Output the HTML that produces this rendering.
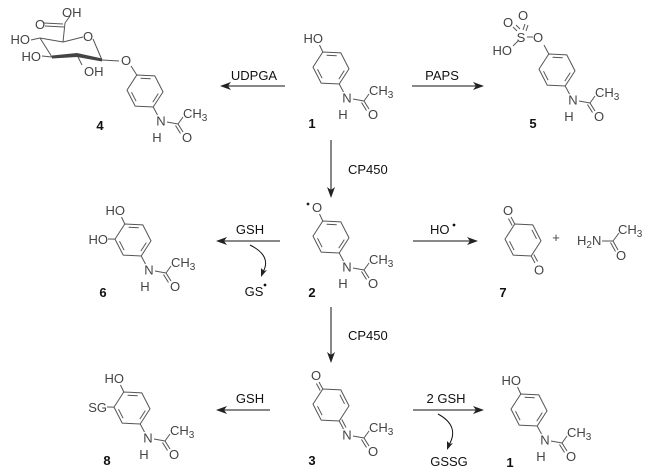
<!DOCTYPE html>
<html><head><meta charset="utf-8"><style>
html,body{margin:0;padding:0;background:#fff;}
svg{display:block;}
text{font-family:"Liberation Sans",sans-serif;font-size:13px;fill:#444;}
.b{font-weight:bold;fill:#111;}
.k{fill:#111;}
</style></head><body>
<svg width="653" height="473" viewBox="0 0 653 473" xmlns="http://www.w3.org/2000/svg">
<g stroke="#555" stroke-width="1" fill="none">
</g>

<!-- Molecule 1 top -->
<g transform="translate(331,68)" stroke="#555" stroke-width="1" fill="none">
<polygon points="-8.2,-16 9.8,-15.1 18,0.9 8.2,16 -9.8,15.1 -18,-0.9"/>
<line x1="-4.4" y1="-12.8" x2="5.7" y2="-12.3"/><line x1="13.3" y1="2.6" x2="7.8" y2="11.1"/><line x1="-8.9" y1="10.2" x2="-13.5" y2="1.2"/>
<line x1="-8.2" y1="-16" x2="-11.5" y2="-23"/>
<line x1="8.2" y1="16" x2="12.5" y2="24"/>
<line x1="22" y1="31" x2="33" y2="33"/><line x1="33" y1="33" x2="38" y2="26"/>
<line x1="33" y1="33" x2="38" y2="41"/><line x1="30.5" y1="34.5" x2="35.5" y2="42.5"/>
<g stroke="none"><text x="-8" y="-25" text-anchor="end">HO</text><text x="16" y="34.5" text-anchor="middle">N</text><text x="12" y="51" text-anchor="middle">H</text><text x="38" y="27">CH<tspan font-size="10" dy="3">3</tspan></text><text x="42" y="51" text-anchor="middle">O</text></g>
</g>

<!-- Molecule 5 -->
<g transform="translate(557,70)" stroke="#555" stroke-width="1" fill="none">
<polygon points="-8.2,-16 9.8,-15.1 18,0.9 8.2,16 -9.8,15.1 -18,-0.9"/>
<line x1="-4.4" y1="-12.8" x2="5.7" y2="-12.3"/><line x1="13.3" y1="2.6" x2="7.8" y2="11.1"/><line x1="-8.9" y1="10.2" x2="-13.5" y2="1.2"/>
<line x1="-8.2" y1="-16" x2="-13" y2="-25"/>
<line x1="-24" y1="-33" x2="-30" y2="-33"/>
<line x1="-40" y1="-39" x2="-44" y2="-43"/><line x1="-37" y1="-41" x2="-41" y2="-45"/>
<line x1="-34" y1="-40" x2="-32" y2="-46"/><line x1="-31" y1="-39" x2="-29" y2="-45"/>
<line x1="-39" y1="-29" x2="-44" y2="-24"/>
<line x1="8.2" y1="16" x2="12.5" y2="24"/>
<line x1="22" y1="31" x2="33" y2="33"/><line x1="33" y1="33" x2="38" y2="26"/>
<line x1="33" y1="33" x2="38" y2="41"/><line x1="30.5" y1="34.5" x2="35.5" y2="42.5"/>
<g stroke="none"><text x="-19" y="-28" text-anchor="middle">O</text><text x="-36" y="-28" text-anchor="middle">S</text><text x="-49" y="-43" text-anchor="middle">O</text><text x="-34" y="-50" text-anchor="middle">O</text><text x="-45" y="-15" text-anchor="end">HO</text>
<text x="16" y="34.5" text-anchor="middle">N</text><text x="12" y="51" text-anchor="middle">H</text><text x="38" y="27">CH<tspan font-size="10" dy="3">3</tspan></text><text x="42" y="51" text-anchor="middle">O</text></g>
</g>

<!-- Molecule 4 -->
<g transform="translate(145,91)" stroke="#555" stroke-width="1" fill="none">
<polygon points="-8.2,-16 9.8,-15.1 18,0.9 8.2,16 -9.8,15.1 -18,-0.9"/>
<line x1="-4.4" y1="-12.8" x2="5.7" y2="-12.3"/><line x1="13.3" y1="2.6" x2="7.8" y2="11.1"/><line x1="-8.9" y1="10.2" x2="-13.5" y2="1.2"/>
<line x1="-8.2" y1="-16" x2="-14" y2="-25"/>
<line x1="8.2" y1="16" x2="12.5" y2="24"/>
<line x1="22" y1="31" x2="33" y2="33"/><line x1="33" y1="33" x2="38" y2="26"/>
<line x1="33" y1="33" x2="38" y2="41"/><line x1="30.5" y1="34.5" x2="35.5" y2="42.5"/>
<g stroke="none"><text x="16" y="34.5" text-anchor="middle">N</text><text x="12" y="51" text-anchor="middle">H</text><text x="38" y="27">CH<tspan font-size="10" dy="3">3</tspan></text><text x="42" y="51" text-anchor="middle">O</text></g>
</g>
<g stroke="#555" stroke-width="1" fill="none">
<line x1="119" y1="61" x2="102" y2="60"/>
<line x1="102" y1="60" x2="93" y2="39"/>
<line x1="83" y1="37" x2="63" y2="42"/>
<line x1="63" y1="42" x2="40" y2="38"/>
<line x1="40" y1="38" x2="52" y2="57"/>
<line x1="63" y1="42" x2="65" y2="23"/>
<line x1="65" y1="23" x2="70" y2="16"/>
<line x1="63" y1="24" x2="44" y2="23"/><line x1="64" y1="27" x2="45" y2="26"/>
<line x1="40" y1="38" x2="31" y2="40"/>
<line x1="52" y1="57" x2="42" y2="56"/>
<line x1="77" y1="55" x2="82" y2="65"/>
</g>
<polygon points="52,55.5 77,53 102,58.5 102,61.5 77,57 52,58.5" fill="#444"/>
<text x="126" y="65" text-anchor="middle">O</text>
<text x="88" y="41" text-anchor="middle">O</text>
<text x="40" y="29" text-anchor="middle">O</text>
<text x="62" y="17">OH</text>
<text x="30" y="44" text-anchor="end">HO</text>
<text x="41" y="61" text-anchor="end">HO</text>
<text x="84" y="76">OH</text>

<!-- Molecule 2 -->
<g transform="translate(331,237)" stroke="#555" stroke-width="1" fill="none">
<polygon points="-8.2,-16 9.8,-15.1 18,0.9 8.2,16 -9.8,15.1 -18,-0.9"/>
<line x1="-4.4" y1="-12.8" x2="5.7" y2="-12.3"/><line x1="13.3" y1="2.6" x2="7.8" y2="11.1"/><line x1="-8.9" y1="10.2" x2="-13.5" y2="1.2"/>
<line x1="-8.2" y1="-16" x2="-11.5" y2="-23"/>
<line x1="8.2" y1="16" x2="12.5" y2="24"/>
<line x1="22" y1="31" x2="33" y2="33"/><line x1="33" y1="33" x2="38" y2="26"/>
<line x1="33" y1="33" x2="38" y2="41"/><line x1="30.5" y1="34.5" x2="35.5" y2="42.5"/>
<g stroke="none"><text x="-14" y="-25" text-anchor="middle">O</text><circle cx="-23" cy="-33" r="1.4" fill="#222"/><text x="16" y="34.5" text-anchor="middle">N</text><text x="12" y="51" text-anchor="middle">H</text><text x="38" y="27">CH<tspan font-size="10" dy="3">3</tspan></text><text x="42" y="51" text-anchor="middle">O</text></g>
</g>

<!-- Molecule 6 -->
<g transform="translate(133,240)" stroke="#555" stroke-width="1" fill="none">
<polygon points="-8.2,-16 9.8,-15.1 18,0.9 8.2,16 -9.8,15.1 -18,-0.9"/>
<line x1="-4.4" y1="-12.8" x2="5.7" y2="-12.3"/><line x1="13.3" y1="2.6" x2="7.8" y2="11.1"/><line x1="-8.9" y1="10.2" x2="-13.5" y2="1.2"/>
<line x1="-8.2" y1="-16" x2="-11.5" y2="-23"/>
<line x1="-18" y1="-0.9" x2="-25" y2="-1"/>
<line x1="8.2" y1="16" x2="12.5" y2="24"/>
<line x1="22" y1="31" x2="33" y2="33"/><line x1="33" y1="33" x2="38" y2="26"/>
<line x1="33" y1="33" x2="38" y2="41"/><line x1="30.5" y1="34.5" x2="35.5" y2="42.5"/>
<g stroke="none"><text x="-8" y="-25" text-anchor="end">HO</text><text x="-25" y="4" text-anchor="end">HO</text><text x="16" y="34.5" text-anchor="middle">N</text><text x="12" y="51" text-anchor="middle">H</text><text x="38" y="27">CH<tspan font-size="10" dy="3">3</tspan></text><text x="42" y="51" text-anchor="middle">O</text></g>
</g>

<!-- Molecule 7 -->
<g transform="translate(523,240)" stroke="#555" stroke-width="1" fill="none">
<polygon points="-8.2,-16 9.8,-15.1 18,0.9 8.2,16 -9.8,15.1 -18,-0.9"/>
<line x1="8.9" y1="-10.2" x2="13.5" y2="-1.2"/><line x1="-8.9" y1="10.2" x2="-13.5" y2="1.2"/>
<line x1="-8.2" y1="-16" x2="-12" y2="-23"/><line x1="-10.8" y1="-14.5" x2="-14.6" y2="-21.5"/>
<line x1="8.2" y1="16" x2="12" y2="23"/><line x1="10.8" y1="14.5" x2="14.6" y2="21.5"/>
<g stroke="none"><text x="-15" y="-25" text-anchor="middle">O</text><text x="16" y="34.5" text-anchor="middle">O</text></g>
</g>
<text x="556" y="242" text-anchor="middle">+</text>
<text x="577" y="245">H<tspan font-size="10" dy="3">2</tspan><tspan dy="-3">N</tspan></text>
<g stroke="#555" stroke-width="1"><line x1="602" y1="241" x2="613" y2="241"/><line x1="613" y1="241" x2="619" y2="233"/><line x1="613" y1="241" x2="618" y2="250"/><line x1="610.5" y1="242.5" x2="615.5" y2="251.5"/></g>
<text x="618" y="234">CH<tspan font-size="10" dy="3">3</tspan></text>
<text x="621" y="260" text-anchor="middle">O</text>

<!-- Molecule 3 -->
<g transform="translate(331,405)" stroke="#555" stroke-width="1" fill="none">
<polygon points="-8.2,-16 9.8,-15.1 18,0.9 8.2,16 -9.8,15.1 -18,-0.9"/>
<line x1="8.9" y1="-10.2" x2="13.5" y2="-1.2"/><line x1="-8.9" y1="10.2" x2="-13.5" y2="1.2"/>
<line x1="-8.2" y1="-16" x2="-12" y2="-23"/><line x1="-10.8" y1="-14.5" x2="-14.6" y2="-21.5"/>
<line x1="8.2" y1="16" x2="12.5" y2="24"/><line x1="10.8" y1="14.5" x2="15" y2="22.5"/>
<line x1="22" y1="31" x2="33" y2="33"/><line x1="33" y1="33" x2="38" y2="26"/>
<line x1="33" y1="33" x2="38" y2="41"/><line x1="30.5" y1="34.5" x2="35.5" y2="42.5"/>
<g stroke="none"><text x="-15" y="-25" text-anchor="middle">O</text><text x="16" y="34.5" text-anchor="middle">N</text><text x="38" y="27">CH<tspan font-size="10" dy="3">3</tspan></text><text x="42" y="51" text-anchor="middle">O</text></g>
</g>

<!-- Molecule 8 -->
<g transform="translate(132,408)" stroke="#555" stroke-width="1" fill="none">
<polygon points="-8.2,-16 9.8,-15.1 18,0.9 8.2,16 -9.8,15.1 -18,-0.9"/>
<line x1="-4.4" y1="-12.8" x2="5.7" y2="-12.3"/><line x1="13.3" y1="2.6" x2="7.8" y2="11.1"/><line x1="-8.9" y1="10.2" x2="-13.5" y2="1.2"/>
<line x1="-8.2" y1="-16" x2="-11.5" y2="-23"/>
<line x1="-18" y1="-0.9" x2="-25" y2="-1"/>
<line x1="8.2" y1="16" x2="12.5" y2="24"/>
<line x1="22" y1="31" x2="33" y2="33"/><line x1="33" y1="33" x2="38" y2="26"/>
<line x1="33" y1="33" x2="38" y2="41"/><line x1="30.5" y1="34.5" x2="35.5" y2="42.5"/>
<g stroke="none"><text x="-8" y="-25" text-anchor="end">HO</text><text x="-25" y="4" text-anchor="end">SG</text><text x="16" y="34.5" text-anchor="middle">N</text><text x="12" y="51" text-anchor="middle">H</text><text x="38" y="27">CH<tspan font-size="10" dy="3">3</tspan></text><text x="42" y="51" text-anchor="middle">O</text></g>
</g>

<!-- Molecule 1 bottom right -->
<g transform="translate(529,410)" stroke="#555" stroke-width="1" fill="none">
<polygon points="-8.2,-16 9.8,-15.1 18,0.9 8.2,16 -9.8,15.1 -18,-0.9"/>
<line x1="-4.4" y1="-12.8" x2="5.7" y2="-12.3"/><line x1="13.3" y1="2.6" x2="7.8" y2="11.1"/><line x1="-8.9" y1="10.2" x2="-13.5" y2="1.2"/>
<line x1="-8.2" y1="-16" x2="-11.5" y2="-23"/>
<line x1="8.2" y1="16" x2="12.5" y2="24"/>
<line x1="22" y1="31" x2="33" y2="33"/><line x1="33" y1="33" x2="38" y2="26"/>
<line x1="33" y1="33" x2="38" y2="41"/><line x1="30.5" y1="34.5" x2="35.5" y2="42.5"/>
<g stroke="none"><text x="-8" y="-25" text-anchor="end">HO</text><text x="16" y="34.5" text-anchor="middle">N</text><text x="12" y="51" text-anchor="middle">H</text><text x="38" y="27">CH<tspan font-size="10" dy="3">3</tspan></text><text x="42" y="51" text-anchor="middle">O</text></g>
</g>

<!-- Compound labels -->
<text class="b" x="100" y="130" text-anchor="middle">4</text>
<text class="b" x="312" y="128" text-anchor="middle">1</text>
<text class="b" x="533" y="128" text-anchor="middle">5</text>
<text class="b" x="103" y="297" text-anchor="middle">6</text>
<text class="b" x="312" y="297" text-anchor="middle">2</text>
<text class="b" x="503" y="297" text-anchor="middle">7</text>
<text class="b" x="107" y="465" text-anchor="middle">8</text>
<text class="b" x="312" y="465" text-anchor="middle">3</text>
<text class="b" x="510" y="467" text-anchor="middle">1</text>

<!-- Arrows -->
<g stroke="#111" stroke-width="1" fill="none">
<line x1="285" y1="86" x2="226" y2="86"/>
<line x1="412" y1="86" x2="478" y2="86"/>
<line x1="331" y1="140" x2="331" y2="193"/>
<line x1="280" y1="241" x2="222" y2="241"/>
<path d="M250 245 Q272 256 263 272"/>
<line x1="413" y1="241" x2="472" y2="241"/>
<line x1="331" y1="307" x2="331" y2="358"/>
<line x1="270" y1="410" x2="222" y2="410"/>
<line x1="413" y1="410" x2="478" y2="410"/>
<path d="M438 414 Q460 426 449 445"/>
</g>
<g fill="#222">
<path d="M220 86 L231 82 L228 86 L231 90 Z"/>
<path d="M484 86 L473 82 L476 86 L473 90 Z"/>
<path d="M331 198 L327 187 L331 190 L335 187 Z"/>
<path d="M216 241 L227 237 L224 241 L227 245 Z"/>
<path d="M261 277 L261 268 L264 271 L267 270 Z"/>
<path d="M478 241 L467 237 L470 241 L467 245 Z"/>
<path d="M331 363 L327 352 L331 355 L335 352 Z"/>
<path d="M216 410 L227 406 L224 410 L227 414 Z"/>
<path d="M484 410 L473 406 L476 410 L473 414 Z"/>
<path d="M447 450 L447 441 L450 444 L453 443 Z"/>
</g>
<text class="k" x="254" y="80" text-anchor="middle">UDPGA</text>
<text class="k" x="442" y="80" text-anchor="middle">PAPS</text>
<text class="k" x="348" y="174">CP450</text>
<text class="k" x="250" y="234" text-anchor="middle">GSH</text>
<text class="k" x="254" y="296" text-anchor="middle">GS</text>
<circle cx="265" cy="285" r="1.4" fill="#111"/>
<text class="k" x="430" y="234">HO</text>
<circle cx="454" cy="225" r="1.4" fill="#111"/>
<text class="k" x="348" y="340">CP450</text>
<text class="k" x="250" y="403" text-anchor="middle">GSH</text>
<text class="k" x="446" y="403" text-anchor="middle">2 GSH</text>
<text class="k" x="449" y="466" text-anchor="middle">GSSG</text>
</svg>
</body></html>
